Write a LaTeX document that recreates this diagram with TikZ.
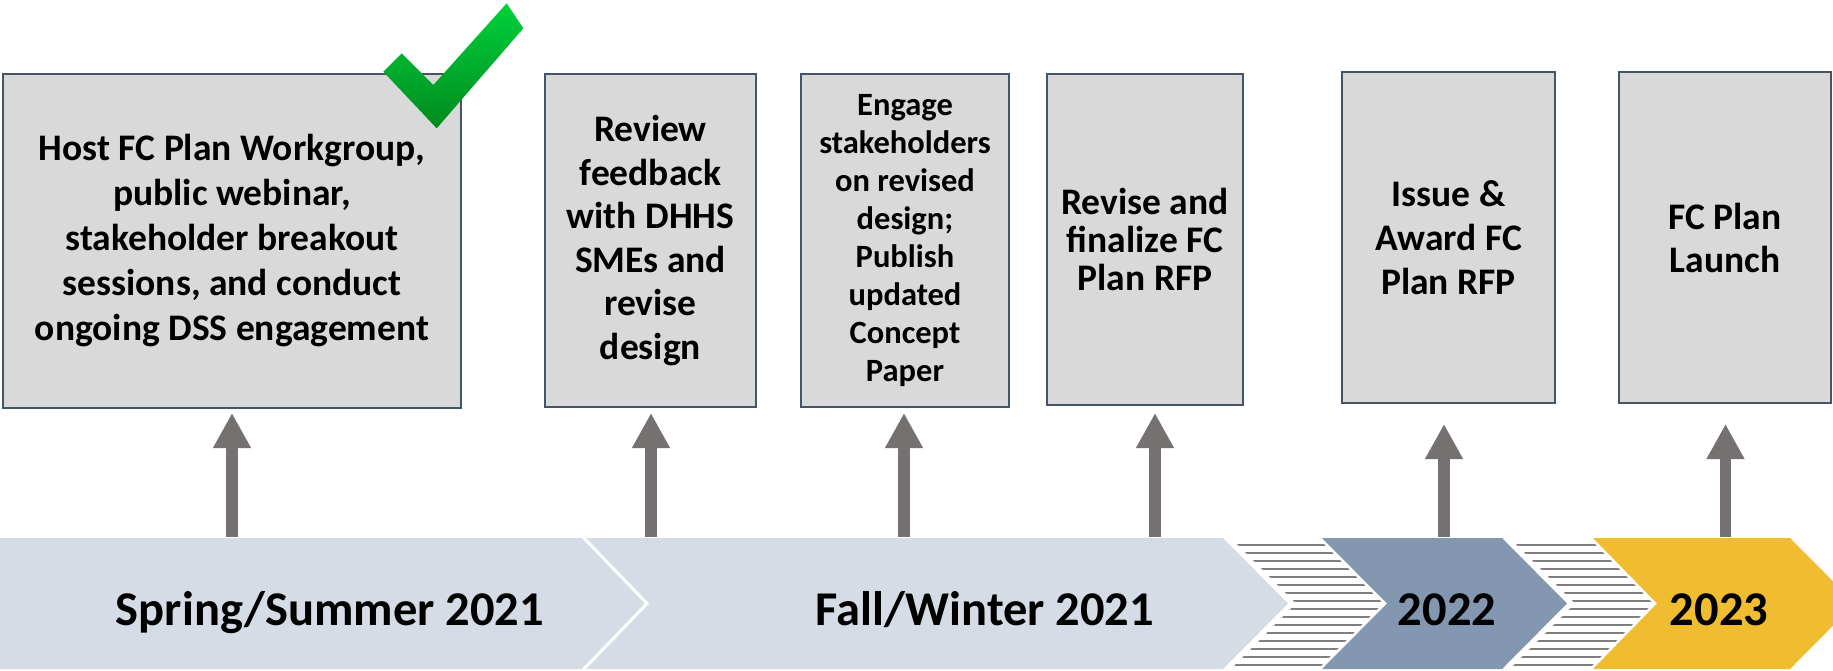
\documentclass[tikz,border=0pt]{standalone}
\usepackage{fontspec}
\setmainfont{Carlito}
\usetikzlibrary{arrows.meta}
\definecolor{bandlight}{HTML}{D6DCE5}
\definecolor{bandblue}{HTML}{8497B0}
\definecolor{bandgold}{HTML}{F0BC30}
\definecolor{boxfill}{HTML}{D9D9D9}
\definecolor{boxline}{HTML}{44546A}
\definecolor{arrowgray}{HTML}{767171}
\definecolor{hatchgray}{HTML}{7F7F7F}
\definecolor{chkhi}{HTML}{00D13A}
\definecolor{chklo}{HTML}{008A1F}
\tikzset{
  taskbox/.style={draw=boxline, line width=2.6pt, fill=boxfill, inner sep=0pt,
    align=center, font=\bfseries\fontsize{37.5}{44}\selectfont},
  uparrow/.style={draw=arrowgray, line width=11.5pt,
    -{Triangle[width=35.5pt,length=35pt]}},
  bandlabel/.style={anchor=base, inner sep=0pt, font=\bfseries\fontsize{48.5}{58}\selectfont},
  hatchline/.style={draw=hatchgray, line width=2.6pt},
}
\begin{document}
\begin{tikzpicture}[x=1pt,y=-1pt]
\useasboundingbox (0,0) rectangle (1833,670);
\clip (0,0) rectangle (1833,670);
\fill[white] (0,0) rectangle (1833,670);

% ---- timeline band ----
\fill[bandlight] (582,538) -- (1223,538) -- (1288,603.5) -- (1223,669) -- (582,669) -- (647,603.5) -- cycle;
\fill[bandlight] (0,538) -- (582,538) -- (647,603.5) -- (582,669) -- (0,669) -- cycle;
\draw[white, line width=3pt] (582,536) -- (647,603.5) -- (582,671);
\fill[bandblue] (1322,538) -- (1502,538) -- (1567,603.5) -- (1502,669) -- (1322,669) -- (1387,603.5) -- cycle;
\fill[bandgold] (1593,538) -- (1790,538) -- (1855,603.5) -- (1790,669) -- (1593,669) -- (1657,603.5) -- cycle;

% hatched sections
\begin{scope}
\clip (1231,538) -- (1318,538) -- (1383,603.5) -- (1318,669) -- (1231,669) -- (1296,603.5) -- cycle;
\foreach \k in {0,...,15} { \draw[hatchline] (1220,545+8*\k) -- (1400,545+8*\k); }
\end{scope}
\begin{scope}
\clip (1510,538) -- (1589,538) -- (1653,603.5) -- (1589,669) -- (1510,669) -- (1575,603.5) -- cycle;
\foreach \k in {0,...,15} { \draw[hatchline] (1500,545+8*\k) -- (1670,545+8*\k); }
\end{scope}

\node[bandlabel] (l1) at (330,625) {Spring/Summer 2021};
\node[bandlabel] (l2) at (985,625) {Fall/Winter 2021};
\node[bandlabel] (l3) at (1447,625) {2022};
\node[bandlabel] (l4) at (1719,625) {2023};

% ---- task boxes ----
\node[taskbox, minimum width=458pt, minimum height=334pt, font=\bfseries\fontsize{37.5}{45}\selectfont] (b1) at (232,241)
  {Host FC Plan Workgroup,\\public webinar,\\stakeholder breakout\\sessions, and conduct\\ongoing DSS engagement};
\node[taskbox, minimum width=211pt, minimum height=333pt, font=\bfseries\fontsize{37.5}{43.5}\selectfont] (b2) at (650.5,240.5)
  {Review\\feedback\\with DHHS\\SMEs and\\revise\\design};
\node[taskbox, minimum width=208pt, minimum height=333pt, font=\bfseries\fontsize{32.5}{38.1}\selectfont] (b3) at (905,240.5)
  {Engage\\stakeholders\\on revised\\design;\\Publish\\updated\\Concept\\Paper};
\node[taskbox, minimum width=196pt, minimum height=331pt, font=\bfseries\fontsize{37.5}{38}\selectfont] (b4) at (1145,239.5)
  {Revise and\\finalize FC\\Plan RFP};
\node[taskbox, minimum width=213pt, minimum height=331pt] (b5) at (1448.5,237.5)
  {Issue \&\\Award FC\\Plan RFP};
\node[taskbox, minimum width=212pt, minimum height=331pt, font=\bfseries\fontsize{37.5}{43}\selectfont] (b6) at (1725,237.5)
  {FC Plan\\Launch};

% ---- arrows ----
\coordinate (a1s) at (232,537); \coordinate (a1e) at (232,413);
\coordinate (a2s) at (651,537); \coordinate (a2e) at (651,413);
\coordinate (a3s) at (904,537); \coordinate (a3e) at (904,413);
\coordinate (a4s) at (1155,537); \coordinate (a4e) at (1155,413);
\coordinate (a5s) at (1444,537); \coordinate (a5e) at (1444,424);
\coordinate (a6s) at (1725.5,537); \coordinate (a6e) at (1725.5,424);
\foreach \i in {1,...,6} { \draw[uparrow] (a\i s) -- (a\i e); }

% ---- check mark ----
\shade[top color=chkhi, bottom color=chklo]
  (383.3,71.7) -- (401.7,53.3) -- (433.3,85) -- (506.7,3.3) -- (523.3,28.3) -- (436.7,128.3) -- cycle;
\end{tikzpicture}
\end{document}
